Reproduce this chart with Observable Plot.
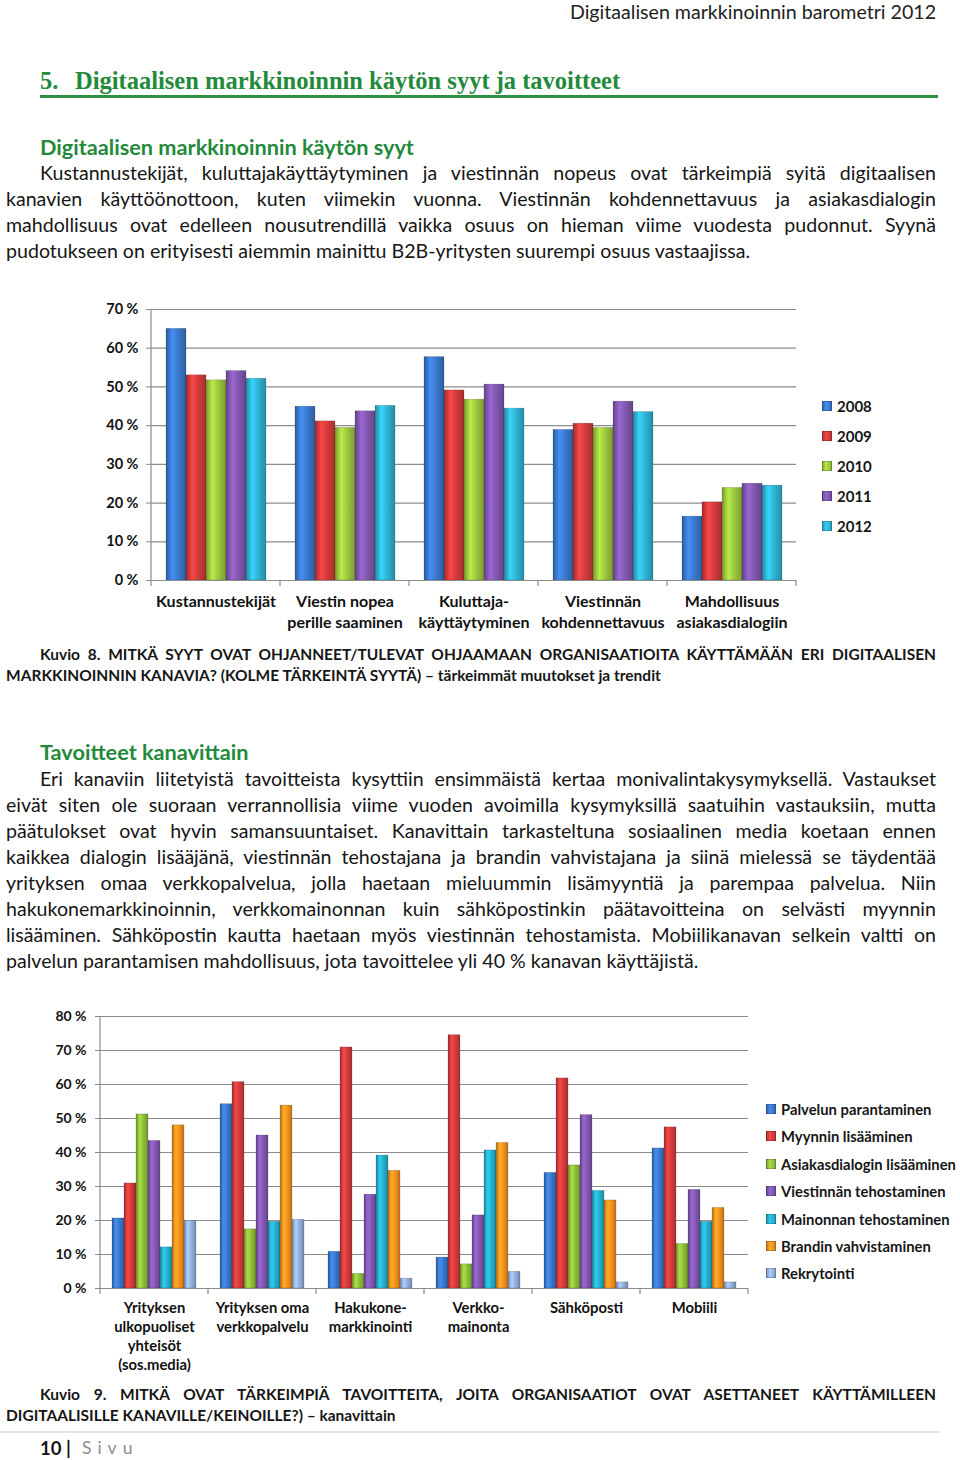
<!DOCTYPE html>
<html lang="fi">
<head>
<meta charset="utf-8">
<script src="https://cdn.jsdelivr.net/npm/d3@7"></script>
<script src="https://cdn.jsdelivr.net/npm/@observablehq/plot@0.6"></script>
<style>
  html, body { margin: 0; padding: 0; background: #fff; }
  #page { position: relative; width: 960px; height: 1460px; overflow: hidden; font-family: Lato, "Noto Sans", sans-serif; color: #161616; }
  .t { position: absolute; white-space: nowrap; }
  .j { text-align: justify; text-align-last: justify; white-space: normal; }
  .green { color: #23893b; }
  .chart { position: absolute; }
  .leg { position: absolute; font-weight: bold; white-space: nowrap; display: flex; align-items: center; }
  .sw { display: inline-block; width: 10px; height: 10px; margin-right: 5px; box-shadow: inset 0 0 0 0.6px rgba(0,0,0,0.35); }
</style>
</head>
<body>
<div id="page"></div>
<script>
// ---------- DATA ----------
const years = ["2008", "2009", "2010", "2011", "2012"];
const reasonCats = ["Kustannustekijät", "Viestin nopea\nperille saaminen", "Kuluttaja-\nkäyttäytyminen", "Viestinnän\nkohdennettavuus", "Mahdollisuus\nasiakasdialogiin"];
const v2008 = [65.0, 44.9, 57.7, 38.9, 16.5];
const v2009 = [53.0, 41.1, 49.1, 40.5, 20.2];
const v2010 = [51.7, 39.4, 46.7, 39.4, 23.9];
const v2011 = [54.1, 43.7, 50.6, 46.2, 25.0];
const v2012 = [52.1, 45.1, 44.4, 43.5, 24.5];
const yTicks1 = [0, 10, 20, 30, 40, 50, 60, 70];

const channels = ["Yrityksen\nulkopuoliset\nyhteisöt\n(sos.media)", "Yrityksen oma\nverkkopalvelu", "Hakukone-\nmarkkinointi", "Verkko-\nmainonta", "Sähköposti", "Mobiili"];
const goals = ["Palvelun parantaminen", "Myynnin lisääminen", "Asiakasdialogin lisääminen", "Viestinnän tehostaminen", "Mainonnan tehostaminen", "Brandin vahvistaminen", "Rekrytointi"];
const palvelun   = [20.6, 54.2, 10.8,  9.1, 34.0, 41.2];
const myynnin    = [30.9, 60.7, 70.9, 74.5, 61.8, 47.4];
const asiakas    = [51.2, 17.4,  4.3,  7.1, 36.2, 13.1];
const viestinnan = [43.4, 45.0, 27.6, 21.5, 51.0, 29.0];
const mainonnan  = [12.1, 19.6, 39.1, 40.6, 28.7, 19.6];
const brandin    = [48.0, 53.8, 34.6, 42.8, 25.9, 23.7];
const rekry      = [19.9, 20.2,  2.9,  4.9,  1.8,  1.8];
const yTicks2 = [0, 10, 20, 30, 40, 50, 60, 70, 80];

const colors1 = ["#3a78cc", "#d13b3b", "#9cc63e", "#8157b0", "#2fb2d2"];
const colors2 = ["#3a78cc", "#d13b3b", "#8fbd3a", "#8157b0", "#26aecb", "#f5911e", "#93afdc"];

// ---------- TEXT ----------
const headerText = "Digitaalisen markkinoinnin barometri 2012";
const h1Num = "5.";
const h1Text = "Digitaalisen markkinoinnin käytön syyt ja tavoitteet";
const sub1 = "Digitaalisen markkinoinnin käytön syyt";
const para1 = [
  "Kustannustekijät, kuluttajakäyttäytyminen ja viestinnän nopeus ovat tärkeimpiä syitä digitaalisen",
  "kanavien käyttöönottoon, kuten viimekin vuonna. Viestinnän kohdennettavuus ja asiakasdialogin",
  "mahdollisuus ovat edelleen nousutrendillä vaikka osuus on hieman viime vuodesta pudonnut. Syynä",
  "pudotukseen on erityisesti aiemmin mainittu B2B-yritysten suurempi osuus vastaajissa."
];
const cap1 = [
  "Kuvio 8. MITKÄ SYYT OVAT OHJANNEET/TULEVAT OHJAAMAAN ORGANISAATIOITA KÄYTTÄMÄÄN ERI DIGITAALISEN",
  "MARKKINOINNIN KANAVIA? (KOLME TÄRKEINTÄ SYYTÄ) – tärkeimmät muutokset ja trendit"
];
const sub2 = "Tavoitteet kanavittain";
const para2 = [
  "Eri kanaviin liitetyistä tavoitteista kysyttiin ensimmäistä kertaa monivalintakysymyksellä. Vastaukset",
  "eivät siten ole suoraan verrannollisia viime vuoden avoimilla kysymyksillä saatuihin vastauksiin, mutta",
  "päätulokset ovat hyvin samansuuntaiset. Kanavittain tarkasteltuna sosiaalinen media koetaan ennen",
  "kaikkea dialogin lisääjänä, viestinnän tehostajana ja brandin vahvistajana ja siinä mielessä se täydentää",
  "yrityksen omaa verkkopalvelua, jolla haetaan mieluummin lisämyyntiä ja parempaa palvelua. Niin",
  "hakukonemarkkinoinnin, verkkomainonnan kuin sähköpostinkin päätavoitteina on selvästi myynnin",
  "lisääminen. Sähköpostin kautta haetaan myös viestinnän tehostamista. Mobiilikanavan selkein valtti on",
  "palvelun parantamisen mahdollisuus, jota tavoittelee yli 40 % kanavan käyttäjistä."
];
const cap2 = [
  "Kuvio 9. MITKÄ OVAT TÄRKEIMPIÄ TAVOITTEITA, JOITA ORGANISAATIOT OVAT ASETTANEET KÄYTTÄMILLEEN",
  "DIGITAALISILLE KANAVILLE/KEINOILLE?) – kanavittain"
];

// ---------- PAGE LAYOUT ----------
const page = document.getElementById("page");
function txt(s, o) {
  const d = document.createElement("div");
  d.className = "t" + (o.cls ? " " + o.cls : "");
  d.textContent = s;
  const lh = o.lh || 26;
  d.style.lineHeight = lh + "px";
  d.style.top = (o.cy - lh / 2) + "px";
  if (o.left != null) d.style.left = o.left + "px";
  if (o.right != null) d.style.right = o.right + "px";
  if (o.width != null) d.style.width = o.width + "px";
  d.style.fontSize = (o.size || 17) + "px";
  if (o.weight) d.style.fontWeight = o.weight;
  if (o.family) d.style.fontFamily = o.family;
  if (o.color) d.style.color = o.color;
  if (o.ls) d.style.letterSpacing = o.ls;
  page.appendChild(d);
  return d;
}
function paragraph(lines, startY, step, size, weight) {
  lines.forEach((s, i) => {
    const last = i === lines.length - 1;
    const left = i === 0 ? 40 : 6;
    txt(s, {cy: startY + i * step, left, width: last ? null : 936 - left, size, weight, cls: last ? "" : "j"});
  });
}

txt(headerText, {cy: 12, right: 24, size: 19.6, color: "#222"});
txt(h1Num, {cy: 81, left: 40, size: 24.5, weight: "bold", family: "'Liberation Serif', 'DejaVu Serif', serif", color: "#23893b"});
txt(h1Text, {cy: 81, left: 75, size: 24.5, weight: "bold", family: "'Liberation Serif', 'DejaVu Serif', serif", color: "#23893b"});
const rule = document.createElement("div");
Object.assign(rule.style, {position: "absolute", left: "40px", top: "95px", width: "898px", height: "3px", background: "#2e8f40"});
page.appendChild(rule);

txt(sub1, {cy: 147, left: 40, size: 21.7, weight: "bold", cls: "green"});
paragraph(para1, 173, 26, 19.6);
paragraph(cap1, 654, 21, 15.5, "bold");
txt(sub2, {cy: 752, left: 40, size: 21.7, weight: "bold", cls: "green"});
paragraph(para2, 779, 26, 19.6);
paragraph(cap2, 1394, 21, 15.5, "bold");

const foot = document.createElement("div");
Object.assign(foot.style, {position: "absolute", left: "0px", top: "1431px", width: "940px", height: "2px", background: "#e4e4e4"});
page.appendChild(foot);
txt("10 |", {cy: 1448, left: 40, size: 18.5, weight: "bold"});
txt("Sivu", {cy: 1448, left: 82, size: 17.5, color: "#8c8c8c", ls: "6px"});

// ---------- HELPERS ----------
function gradCss(c) {
  const base = d3.color(c);
  return `linear-gradient(90deg, ${base.darker(0.6)} 0%, ${base.brighter(0.45)} 40%, ${base.darker(0.4)} 100%)`;
}
function addGradients(svg, prefix, cols) {
  const defs = d3.select(svg).insert("defs", ":first-child");
  cols.forEach((c, i) => {
    const base = d3.color(c);
    const g = defs.append("linearGradient").attr("id", `${prefix}${i}`).attr("x1", 0).attr("x2", 1).attr("y1", 0).attr("y2", 0);
    g.append("stop").attr("offset", "0%").attr("stop-color", base.darker(0.75));
    g.append("stop").attr("offset", "32%").attr("stop-color", base.brighter(0.5));
    g.append("stop").attr("offset", "62%").attr("stop-color", base);
    g.append("stop").attr("offset", "100%").attr("stop-color", base.darker(0.65));
  });
}
function addAxisLines(chart, cats, top) {
  const fx = chart.scale("fx"), y = chart.scale("y");
  const svg = d3.select(chart);
  const x0 = fx.apply(cats[0]);
  const y0 = y.apply(0), y1 = y.apply(top);
  const g = svg.append("g").attr("stroke", "#8c8c8c").attr("stroke-width", 1.2);
  g.append("line").attr("x1", x0).attr("x2", x0).attr("y1", y0).attr("y2", y1);
  const edges = cats.map(c => fx.apply(c));
  edges.push(fx.apply(cats[cats.length - 1]) + fx.bandwidth);
  edges.forEach(x => g.append("line").attr("x1", x).attr("x2", x).attr("y1", y0).attr("y2", y0 + 6));
}

// ---------- CHART 1 ----------
const data1 = [];
const series1 = [v2008, v2009, v2010, v2011, v2012];
reasonCats.forEach((c, ci) => years.forEach((yr, yi) => data1.push({cat: c, year: yr, value: series1[yi][ci]})));

const chart1 = Plot.plot({
  width: 720, height: 340,
  marginLeft: 60, marginRight: 14, marginTop: 9, marginBottom: 60,
  style: {fontFamily: "Lato, sans-serif", fontSize: "14px", color: "#111", background: "transparent", overflow: "visible"},
  fx: {domain: reasonCats, padding: 0, label: null},
  x: {domain: years, paddingInner: 0.02, paddingOuter: 0.62, axis: null},
  y: {domain: [0, 70], label: null},
  color: {domain: years, range: years.map((_, i) => `url(#ga${i})`)},
  marks: [
    Plot.gridY(yTicks1, {stroke: "#8c8c8c", strokeOpacity: 1, strokeWidth: 1.2}),
    Plot.axisY(yTicks1, {tickSize: 5, tickPadding: 8, stroke: "#8c8c8c", fill: "#111", fontWeight: "bold", fontSize: 14.5, tickFormat: d => d + " %", label: null}),
    Plot.axisFx({anchor: "bottom", tickSize: 0, tickPadding: 12, fontSize: 16, fontWeight: "bold", lineHeight: 1.31, fill: "#111", label: null}),
    Plot.barY(data1, {fx: "cat", x: "year", y: "value", fill: "year", stroke: "rgba(0,0,0,0.25)", strokeWidth: 0.6}),
    Plot.ruleY([0], {stroke: "#8c8c8c", strokeWidth: 1.2})
  ]
});
addGradients(chart1, "ga", colors1);
addAxisLines(chart1, reasonCats, 70);
chart1.classList.add("chart");
Object.assign(chart1.style, {left: "90px", top: "300px"});
page.appendChild(chart1);

years.forEach((yr, i) => {
  const d = document.createElement("div");
  d.className = "leg";
  Object.assign(d.style, {left: "822px", top: (406 + i * 30 - 10) + "px", height: "20px", fontSize: "15px"});
  const s = document.createElement("span"); s.className = "sw"; s.style.background = gradCss(colors1[i]);
  d.appendChild(s); d.appendChild(document.createTextNode(yr));
  page.appendChild(d);
});

// ---------- CHART 2 ----------
const data2 = [];
const series2 = [palvelun, myynnin, asiakas, viestinnan, mainonnan, brandin, rekry];
channels.forEach((c, ci) => goals.forEach((gname, gi) => data2.push({cat: c, goal: gname, value: series2[gi][ci]})));

const chart2 = Plot.plot({
  width: 720, height: 380,
  marginLeft: 58, marginRight: 10, marginTop: 11, marginBottom: 97,
  style: {fontFamily: "Lato, sans-serif", fontSize: "14px", color: "#111", background: "transparent", overflow: "visible"},
  fx: {domain: channels, padding: 0, label: null},
  x: {domain: goals, paddingInner: 0.02, paddingOuter: 0.72, axis: null},
  y: {domain: [0, 80], label: null},
  color: {domain: goals, range: goals.map((_, i) => `url(#gb${i})`)},
  marks: [
    Plot.gridY(yTicks2, {stroke: "#8c8c8c", strokeOpacity: 1, strokeWidth: 1.2}),
    Plot.axisY(yTicks2, {tickSize: 5, tickPadding: 9, stroke: "#8c8c8c", fill: "#111", fontWeight: "bold", fontSize: 14, tickFormat: d => d + " %", label: null}),
    Plot.axisFx({anchor: "bottom", tickSize: 0, tickPadding: 11, fontSize: 14.8, fontWeight: "bold", lineHeight: 1.28, fill: "#111", label: null}),
    Plot.barY(data2, {fx: "cat", x: "goal", y: "value", fill: "goal", stroke: "rgba(0,0,0,0.25)", strokeWidth: 0.6}),
    Plot.ruleY([0], {stroke: "#8c8c8c", strokeWidth: 1.2})
  ]
});
addGradients(chart2, "gb", colors2);
addAxisLines(chart2, channels, 80);
chart2.classList.add("chart");
Object.assign(chart2.style, {left: "40px", top: "1005px"});
page.appendChild(chart2);

goals.forEach((gname, i) => {
  const d = document.createElement("div");
  d.className = "leg";
  Object.assign(d.style, {left: "766px", top: (1109 + i * 27.4 - 10) + "px", height: "20px", fontSize: "14.8px"});
  const s = document.createElement("span"); s.className = "sw"; s.style.background = gradCss(colors2[i]);
  d.appendChild(s); d.appendChild(document.createTextNode(gname));
  page.appendChild(d);
});
</script>
</body>
</html>
